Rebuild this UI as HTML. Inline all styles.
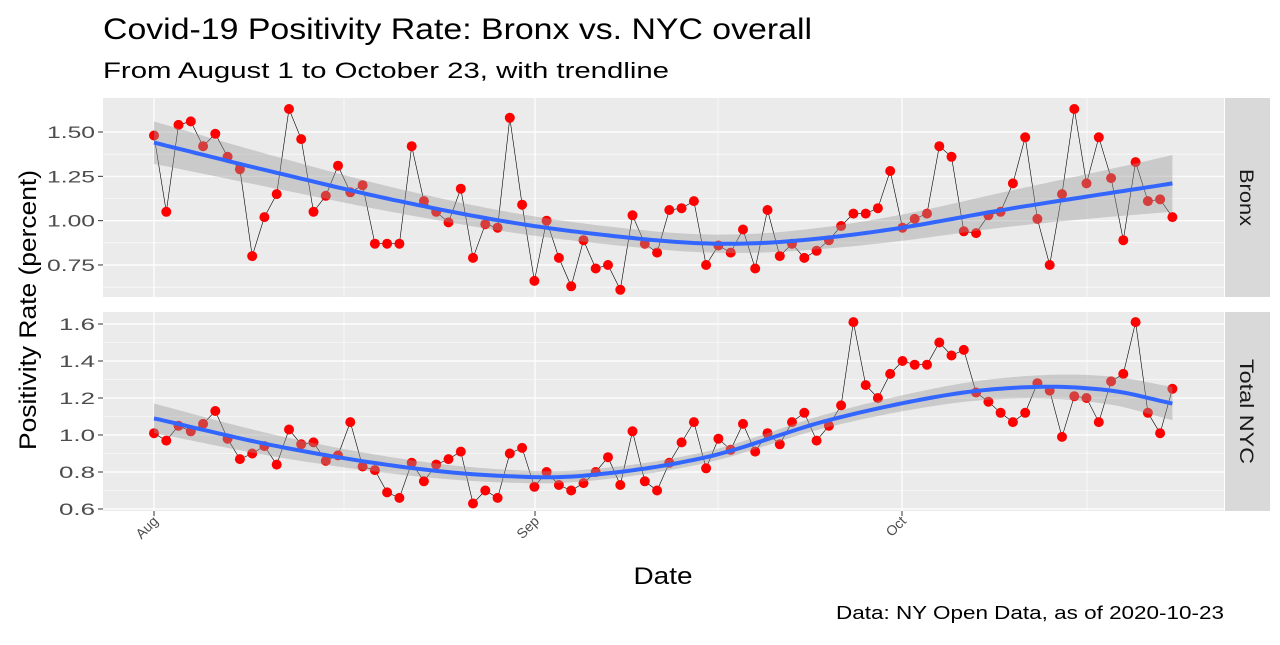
<!DOCTYPE html>
<html><head><meta charset="utf-8"><style>
body{margin:0;background:#fff;}
svg text{font-family:"Liberation Sans",Arial,sans-serif;}
</style></head><body>
<svg id="s" width="1280" height="640" xmlns="http://www.w3.org/2000/svg"></svg>
<script>
const s=document.getElementById('s');
let h='';
h+='<rect width="1280" height="640" fill="#fff"/>';
h+='<text x="103" y="39" font-size="30" fill="#000" textLength="709" lengthAdjust="spacingAndGlyphs">Covid-19 Positivity Rate: Bronx  vs. NYC overall</text>';
h+='<text x="103" y="78" font-size="22" fill="#000" textLength="566" lengthAdjust="spacingAndGlyphs">From August 1 to October 23, with trendline</text>';
const X0=103,X1=1224;
const xd=i=>154+i*12.27;
const P=[{top:98,bot:297,y:v=>132+(1.5-v)*177.3,ticks:[0.75,1.0,1.25,1.5],minor:[0.625,0.875,1.125,1.375],fmt:v=>v.toFixed(2),lab:'Bronx',lw:57,
data:[1.48,1.05,1.54,1.56,1.42,1.49,1.36,1.29,0.80,1.02,1.15,1.63,1.46,1.05,1.14,1.31,1.16,1.20,0.87,0.87,0.87,1.42,1.11,1.05,0.99,1.18,0.79,0.98,0.96,1.58,1.09,0.66,1.00,0.79,0.63,0.89,0.73,0.75,0.61,1.03,0.87,0.82,1.06,1.07,1.11,0.75,0.86,0.82,0.95,0.73,1.06,0.80,0.87,0.79,0.83,0.89,0.97,1.04,1.04,1.07,1.28,0.96,1.01,1.04,1.42,1.36,0.94,0.93,1.03,1.05,1.21,1.47,1.01,0.75,1.15,1.63,1.21,1.47,1.24,0.89,1.33,1.11,1.12,1.02],
trend:[[0,1.44],[10,1.27],[20,1.11],[30,0.98],[40,0.895],[46,0.87],[52,0.885],[60,0.95],[70,1.07],[83,1.21]],band:[0.12,0.05,0.16]},
{top:312,bot:511,y:v=>324+(1.6-v)*185,ticks:[0.6,0.8,1.0,1.2,1.4,1.6],minor:[0.7,0.9,1.1,1.3,1.5],fmt:v=>v.toFixed(1),lab:'Total NYC',lw:105,
data:[1.01,0.97,1.05,1.02,1.06,1.13,0.98,0.87,0.90,0.94,0.84,1.03,0.95,0.96,0.86,0.89,1.07,0.83,0.81,0.69,0.66,0.85,0.75,0.84,0.87,0.91,0.63,0.70,0.66,0.90,0.93,0.72,0.80,0.73,0.70,0.74,0.80,0.88,0.73,1.02,0.75,0.70,0.85,0.96,1.07,0.82,0.98,0.92,1.06,0.91,1.01,0.95,1.07,1.12,0.97,1.05,1.16,1.61,1.27,1.20,1.33,1.40,1.38,1.38,1.50,1.43,1.46,1.23,1.18,1.12,1.07,1.12,1.28,1.24,0.99,1.21,1.20,1.07,1.29,1.33,1.61,1.12,1.01,1.25],
trend:[[0,1.09],[10,0.94],[20,0.83],[28,0.78],[35,0.78],[45,0.88],[55,1.08],[65,1.22],[72,1.26],[78,1.24],[83,1.17]],band:[0.08,0.03,0.09]}];
function interp(pts,t){for(let k=0;k<pts.length-1;k++){if(t<=pts[k+1][0]){const p0=pts[Math.max(0,k-1)],p1=pts[k],p2=pts[k+1],p3=pts[Math.min(pts.length-1,k+2)];const u=(t-p1[0])/(p2[0]-p1[0]);
const m1=(p2[1]-p0[1])/(p2[0]-p0[0])*(p2[0]-p1[0]),m2=(p3[1]-p1[1])/(p3[0]-p1[0])*(p2[0]-p1[0]);
const u2=u*u,u3=u2*u;return (2*u3-3*u2+1)*p1[1]+(u3-2*u2+u)*m1+(-2*u3+3*u2)*p2[1]+(u3-u2)*m2;}}return pts[pts.length-1][1];}
for(const p of P){
h+=`<rect x="${X0}" y="${p.top}" width="${X1-X0}" height="${p.bot-p.top}" fill="#EBEBEB"/>`;
for(const m of p.minor){const y=p.y(m);if(y>p.top&&y<p.bot)h+=`<line x1="${X0}" x2="${X1}" y1="${y}" y2="${y}" stroke="#fff" stroke-width="0.6"/>`;}
for(const xm of [344,718,1087])h+=`<line x1="${xm}" x2="${xm}" y1="${p.top}" y2="${p.bot}" stroke="#fff" stroke-width="0.6"/>`;
for(const t of p.ticks){const y=p.y(t);const tl=p.fmt(t).length*12;h+=`<line x1="${X0}" x2="${X1}" y1="${y}" y2="${y}" stroke="#fff" stroke-width="1.2"/><line x1="98" x2="103" y1="${y}" y2="${y}" stroke="#333"/><text x="95" y="${y+6}" font-size="17" fill="#4D4D4D" text-anchor="end" textLength="${tl}" lengthAdjust="spacingAndGlyphs">${p.fmt(t)}</text>`;}
for(const xm of [154,535,902])h+=`<line x1="${xm}" x2="${xm}" y1="${p.top}" y2="${p.bot}" stroke="#fff" stroke-width="1.2"/>`;
h+=`<rect x="1225" y="${p.top}" width="45" height="${p.bot-p.top}" fill="#D9D9D9"/>`;
const cy=(p.top+p.bot)/2;h+=`<text transform="translate(1240,${cy}) rotate(90)" font-size="19" fill="#1A1A1A" text-anchor="middle" textLength="${p.lw}" lengthAdjust="spacingAndGlyphs">${p.lab}</text>`;
let up=[],lo=[],ln=[];
for(let t=0;t<=83;t+=0.5){const v=interp(p.trend,t);const f=Math.abs(t-41.5)/41.5;const b=p.band[1]+(t<41.5?p.band[0]-p.band[1]:p.band[2]-p.band[1])*f*f;
const x=xd(t);up.push(x.toFixed(1)+','+p.y(v+b).toFixed(1));lo.unshift(x.toFixed(1)+','+p.y(v-b).toFixed(1));ln.push(x.toFixed(1)+','+p.y(v).toFixed(1));}
h+=`<polyline points="${p.data.map((v,i)=>xd(i).toFixed(1)+','+p.y(v).toFixed(1)).join(' ')}" fill="none" stroke="#000" stroke-width="0.6"/>`;
for(let i=0;i<p.data.length;i++)h+=`<circle cx="${xd(i).toFixed(1)}" cy="${p.y(p.data[i]).toFixed(1)}" r="5" fill="#FF0000"/>`;
h+=`<polygon points="${up.concat(lo).join(' ')}" fill="#999" fill-opacity="0.4"/>`;
h+=`<polyline points="${ln.join(' ')}" fill="none" stroke="#3366FF" stroke-width="4"/>`;
}
const xl=[[154,'Aug'],[535,'Sep'],[902,'Oct']];
for(const [x,l] of xl){h+=`<line x1="${x}" x2="${x}" y1="511" y2="516" stroke="#333"/><text transform="translate(${x+5},${522}) rotate(-45)" font-size="14" fill="#4D4D4D" text-anchor="end">${l}</text>`;}
h+='<text x="663" y="584" font-size="24" fill="#000" text-anchor="middle" textLength="59" lengthAdjust="spacingAndGlyphs">Date</text>';
h+='<text transform="translate(36,310) rotate(-90)" font-size="24" fill="#000" text-anchor="middle" textLength="280" lengthAdjust="spacingAndGlyphs">Positivity Rate (percent)</text>';
h+='<text x="1224" y="619" font-size="18" fill="#000" text-anchor="end" textLength="388" lengthAdjust="spacingAndGlyphs">Data: NY Open Data, as of 2020-10-23</text>';
s.innerHTML=h;
</script>
</body></html>
